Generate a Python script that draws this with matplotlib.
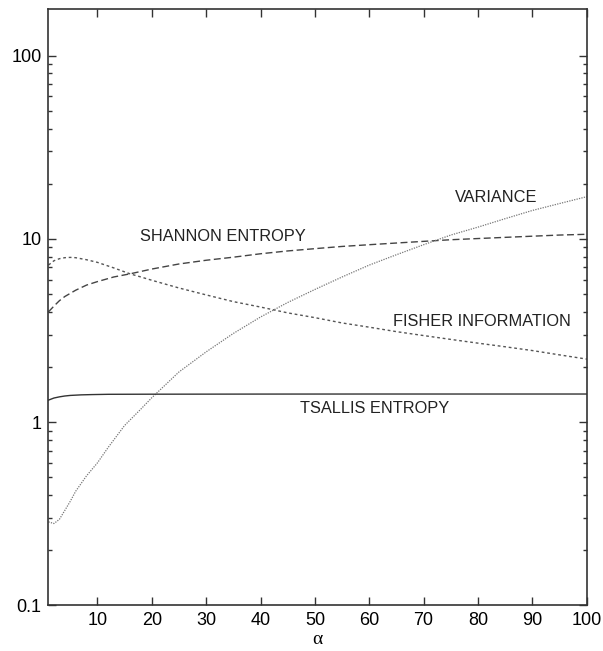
import matplotlib
matplotlib.use("Agg")
import matplotlib.pyplot as plt
from matplotlib.ticker import LogLocator, NullFormatter, FixedLocator

plt.rcParams['font.family'] = ['Liberation Sans', 'DejaVu Sans']

# Data
alpha_var = [1, 2, 3, 4, 5, 6, 8, 10, 12, 15, 18, 20, 25, 30, 35, 40, 45, 50, 55, 60, 65, 70, 75, 80, 85, 90, 95, 100]
variance = [0.286, 0.28, 0.295, 0.33, 0.37, 0.42, 0.51, 0.60, 0.73, 0.96, 1.18, 1.36, 1.88, 2.42, 3.05, 3.75, 4.5, 5.3, 6.2, 7.2, 8.2, 9.3, 10.5, 11.6, 12.9, 14.3, 15.6, 17.0]

alpha_sh = [1, 2, 3, 4, 6, 8, 10, 13, 16, 20, 25, 30, 35, 40, 45, 50, 55, 60, 65, 70, 75, 80, 85, 90, 95, 100]
shannon = [4.0, 4.3, 4.6, 4.85, 5.25, 5.6, 5.85, 6.2, 6.45, 6.85, 7.3, 7.65, 7.95, 8.3, 8.6, 8.85, 9.1, 9.3, 9.5, 9.7, 9.9, 10.05, 10.2, 10.35, 10.5, 10.6]

alpha_fi = [1, 2, 3, 4, 5, 6, 8, 10, 13, 16, 18, 20, 25, 30, 35, 40, 45, 50, 55, 60, 65, 70, 75, 80, 85, 90, 95, 100]
fisher = [7.2, 7.6, 7.8, 7.9, 7.93, 7.9, 7.7, 7.45, 6.95, 6.45, 6.2, 5.95, 5.4, 4.95, 4.55, 4.25, 3.95, 3.72, 3.48, 3.3, 3.12, 2.97, 2.83, 2.7, 2.58, 2.46, 2.33, 2.21]

alpha_ts = [1, 2, 3, 4, 5, 7, 9, 12, 20, 40, 60, 80, 100]
tsallis = [1.32, 1.355, 1.375, 1.39, 1.40, 1.41, 1.415, 1.42, 1.422, 1.424, 1.425, 1.425, 1.425]

xticks = [10, 20, 30, 40, 50, 60, 70, 80, 90, 100]
yticks = [0.1, 1, 10, 100]
ytick_labels = ['0.1', '1', '10', '100']

fig = plt.figure(figsize=(6.03, 6.51), dpi=100)
ax = fig.add_axes([0.0804, 0.0699, 0.8926, 0.9158])

ax.plot(alpha_sh, shannon, color='#444444', lw=1.0, dashes=(5, 2.5))
ax.plot(alpha_fi, fisher, color='#555555', lw=1.0, dashes=(2, 2))
ax.plot(alpha_var, variance, color='#777777', lw=0.9, dashes=(1, 1))
ax.plot(alpha_ts, tsallis, color='#333333', lw=1.0)

ax.set_yscale('log')
ax.set_xlim(1, 100)
ax.set_ylim(0.1, 179)

ax.xaxis.set_major_locator(FixedLocator(xticks))
ax.set_xticklabels([str(t) for t in xticks])
ax.set_yticks(yticks)
ax.set_yticklabels(ytick_labels)
ax.yaxis.set_minor_locator(LogLocator(base=10, subs=[2, 3, 4, 5, 6, 7, 8, 9], numticks=20))
ax.yaxis.set_minor_formatter(NullFormatter())

ax.tick_params(axis='both', which='major', direction='in', length=6, width=1.0,
               top=True, right=True, labelsize=13, color='#333333', pad=5)
ax.tick_params(axis='y', which='minor', direction='in', length=3, width=1.0,
               right=True, color='#333333')
for s in ax.spines.values():
    s.set_linewidth(1.2)
    s.set_color('#333333')

ax.set_xlabel('α', fontsize=14, family=['Liberation Serif', 'DejaVu Serif'], labelpad=1)

tk = dict(fontsize=11.8, color='#222222')
ax.text(17.8, 10.3, 'SHANNON ENTROPY', ha='left', va='center', **tk)
ax.text(75.8, 16.8, 'VARIANCE', ha='left', va='center', **tk)
ax.text(64.4, 3.56, 'FISHER INFORMATION', ha='left', va='center', **tk)
ax.text(47.3, 1.185, 'TSALLIS ENTROPY', ha='left', va='center', **tk)

fig.savefig('out.png', dpi=100)
